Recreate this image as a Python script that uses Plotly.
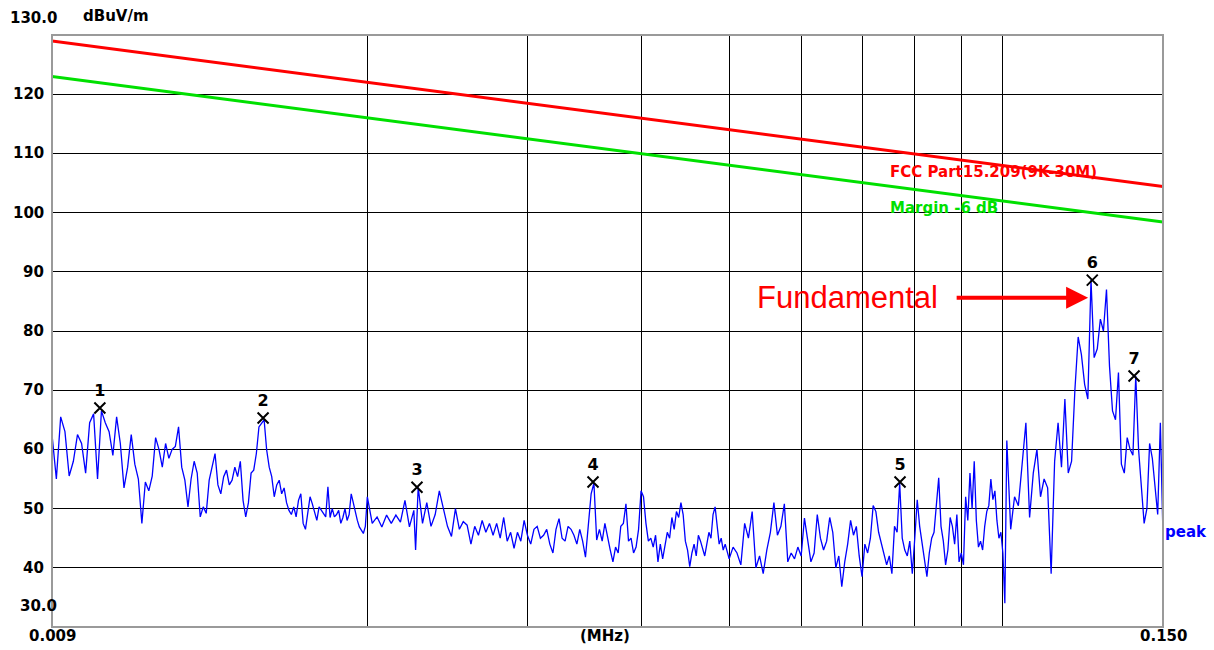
import math
import plotly.graph_objects as go

# ---------------- data (frequency in kHz, level in dBuV/m) ----------------
FREQ_A = [9.0, 9.1, 9.2, 9.3, 9.4, 9.5, 9.6, 9.7, 9.8, 9.9,
          10.0, 10.1, 10.2, 10.3, 10.4, 10.5, 10.6, 10.7, 10.8, 10.9,
          11.0, 11.1, 11.2, 11.3, 11.4, 11.5, 11.6, 11.7, 11.8, 11.9, 12.0]
LEVEL_A = [62.5, 55.0, 65.5, 63.0, 55.5, 58.0, 62.5, 61.0, 56.0, 64.5,
           66.0, 55.0, 66.5, 64.5, 63.0, 59.0, 65.5, 61.0, 53.5, 57.0,
           62.5, 57.5, 55.0, 47.5, 54.5, 53.0, 55.5, 62.0, 60.0, 57.0, 61.0]

FREQ_B = [12.1, 12.2, 12.3, 12.4, 12.5, 12.6, 12.7, 12.8, 12.9, 13.0,
          13.1, 13.2, 13.3, 13.4, 13.5, 13.6, 13.7, 13.8, 13.9, 14.0,
          14.1, 14.2, 14.3, 14.4, 14.5, 14.6, 14.7, 14.8, 14.9, 15.0,
          15.1, 15.2, 15.3, 15.4, 15.5, 15.6, 15.7, 15.8, 15.9, 16.0,
          16.1, 16.2, 16.3, 16.4, 16.5, 16.6, 16.7, 16.8, 16.9, 17.0,
          17.1, 17.2, 17.3, 17.4, 17.5, 17.6, 17.7, 17.8, 17.9, 18.0,
          18.1, 18.2, 18.3, 18.4, 18.5, 18.6, 18.7, 18.8, 18.9, 19.0,
          19.1, 19.2, 19.3, 19.4, 19.5, 19.6, 19.7, 19.8, 19.9, 20.0]
LEVEL_B = [58.5, 60.0, 60.5, 63.8, 57.0, 54.8, 50.3, 55.0, 58.0, 56.0,
           48.6, 50.3, 49.2, 54.8, 57.0, 59.3, 54.0, 52.5, 55.4, 56.5,
           54.0, 54.8, 57.0, 55.4, 58.0, 51.4, 48.6, 51.0, 56.0, 56.5,
           59.3, 63.8, 64.4, 65.0, 59.9, 57.0, 55.4, 52.0, 54.0, 54.8,
           52.5, 53.5, 51.0, 49.7, 49.0, 50.3, 48.6, 51.4, 52.5, 47.5,
           46.5, 49.2, 52.0, 50.8, 49.5, 48.0, 50.3, 49.7, 49.0, 48.6,
           53.7, 48.5, 50.0, 48.6, 49.0, 49.7, 47.5, 48.5, 50.0, 48.0,
           49.0, 52.5, 51.0, 49.2, 48.0, 46.9, 46.3, 45.8, 47.0, 52.0]

FREQ_C = [20.25, 20.5, 20.75, 21.0, 21.25, 21.5, 21.75, 22.0, 22.25, 22.5,
          22.6,
          22.75, 23.0, 23.25, 23.5, 23.75, 24.0, 24.25, 24.5, 24.75, 25.0,
          25.25, 25.5, 25.75, 26.0, 26.25, 26.5, 26.75, 27.0, 27.25, 27.5,
          27.75, 28.0, 28.25, 28.5, 28.75, 29.0, 29.25, 29.5, 29.75, 30.0]
LEVEL_C = [47.5, 48.6, 46.9, 48.9, 47.5, 48.9, 47.7, 51.4, 46.9, 49.7,
           43.0,
           53.6, 47.5, 51.0, 47.0, 49.0, 53.0, 50.0, 47.0, 45.3, 50.0,
           46.5, 47.8, 47.2, 44.0, 47.0, 45.5, 48.0, 46.0, 47.5, 45.5,
           47.5, 45.0, 48.5, 44.5, 46.0, 43.3, 46.0, 44.5, 48.0, 45.5]

FREQ_D = [30.25, 30.5, 30.75, 31.0, 31.25, 31.5, 31.75, 32.0, 32.25, 32.5,
          32.75, 33.0, 33.25, 33.5, 33.75, 34.0, 34.25, 34.5, 34.75, 35.0,
          35.25, 35.5, 35.75, 36.0, 36.25, 36.5, 36.75, 37.0, 37.25, 37.5,
          37.75, 38.0, 38.25, 38.5, 38.75, 39.0, 39.25, 39.5, 39.75, 40.0,
          40.25, 40.5, 40.75, 41.0, 41.25, 41.5, 41.75, 42.0, 42.25, 42.5,
          42.75, 43.0, 43.25, 43.5, 43.75, 44.0, 44.25, 44.5, 44.75, 45.0,
          45.25, 45.5, 45.75, 46.0, 46.25, 46.5, 46.75, 47.0, 47.25, 47.5,
          47.75, 48.0, 48.25, 48.5, 48.75, 49.0, 49.25, 49.5, 49.75, 50.0]
LEVEL_D = [44.0, 46.5, 47.0, 45.0, 45.5, 46.5, 44.0, 42.5, 46.5, 48.3,
           45.0, 44.5, 47.0, 46.5, 45.5, 44.0, 46.5, 44.5, 41.8, 48.0,
           52.5, 54.3, 44.7, 46.5, 44.5, 47.5, 45.0, 43.0, 41.0, 43.5,
           42.5, 47.0, 47.5, 50.8, 44.5, 45.0, 42.5, 43.5, 46.5, 53.0,
           52.0, 47.5, 44.5, 45.0, 43.5, 45.5, 41.0, 44.0, 41.5, 43.5,
           46.0, 45.0, 48.5, 46.5, 49.5, 48.5, 51.0, 49.0, 44.5, 43.0,
           40.2, 42.5, 44.0, 42.0, 45.5, 44.5, 43.0, 42.0, 44.0, 46.0,
           45.0, 49.0, 50.3, 47.5, 44.0, 45.0, 43.0, 44.0, 42.5, 41.5]

FREQ_E = [50.5, 51, 51.5, 52, 52.5, 53, 53.5, 54, 54.5, 55,
          55.5, 56, 56.5, 57, 57.5, 58, 58.5, 59, 59.5, 60,
          60.5, 61, 61.5, 62, 62.5, 63, 63.5, 64, 64.5, 65,
          65.5, 66, 66.5, 67, 67.5, 68, 68.5, 69, 69.5, 70,
          70.5, 71, 71.5, 72, 72.5, 73, 73.5, 74, 74.5, 75,
          75.5, 76, 76.5, 77, 77.5, 78, 78.5, 79, 79.5, 80,
          80.5, 81, 81.5, 82, 82.5, 83, 83.5, 84, 84.5, 85,
          85.5, 86, 86.5, 87, 87.5, 88, 88.5, 89, 89.5, 90,
          90.5, 91, 91.5, 92, 92.5, 93, 93.5, 94, 94.5, 95,
          95.5, 96, 96.5, 97, 97.5, 98, 98.5, 99, 99.5, 100]
LEVEL_E = [43.5, 42.5, 40.5, 47.5, 45.0, 49.5, 40.0, 42.0, 39.0, 43.0,
           46.0, 51.0, 45.5, 47.0, 50.8, 41.0, 42.5, 41.5, 43.5, 42.0,
           48.4, 45.0, 41.0, 42.5, 49.0, 45.0, 43.0, 44.5, 48.5, 46.0,
           40.0, 42.0, 36.8, 41.0, 44.0, 48.0, 45.5, 47.0, 42.0, 38.5,
           44.0, 42.5, 45.0, 50.5, 49.5, 46.0, 44.0, 42.0, 40.5, 42.0,
           39.0, 47.0, 46.0, 54.3, 45.0, 43.0, 42.0, 44.5, 39.0, 45.0,
           51.5, 47.0, 44.0, 41.0, 38.5, 42.5, 45.0, 46.0, 50.0, 55.2,
           47.0, 44.5, 40.5, 43.0, 48.5, 47.0, 44.0, 49.0, 41.0, 42.5,
           40.5, 52.0, 48.0, 56.0, 50.0, 58.0, 48.0, 43.5, 44.5, 43.0,
           47.0, 49.5, 50.5, 55.0, 51.5, 53.0, 48.0, 45.0, 46.0, 42.5]

FREQ_F = [100.5, 101, 102, 103, 104, 105, 106, 107, 108, 109, 110,
          111, 112, 113, 114, 115, 116, 117, 118, 119, 120,
          121, 122, 123, 124, 125, 126, 127, 128, 129, 130,
          131, 132, 133, 134, 135, 136, 137, 138, 139, 140,
          141, 142, 143, 144, 145, 146, 147, 148, 149, 150]
LEVEL_F = [34.0, 61.5, 46.5, 52.0, 50.5, 57.5, 64.5, 48.5, 56.0, 60.0, 52.0,
           55.0, 53.5, 39.0, 58.0, 64.5, 57.0, 68.5, 56.0, 58.0, 70.0,
           79.0, 76.0, 71.0, 68.5, 88.6, 75.5, 77.0, 82.0, 80.0, 87.0,
           74.0, 66.5, 65.0, 73.0, 57.5, 56.0, 62.0, 60.0, 59.0, 72.4,
           60.0, 53.0, 47.5, 50.0, 61.0, 58.5, 53.0, 49.0, 64.5, 45.3]

MARKER_IDS = ["1", "2", "3", "4", "5", "6", "7"]
MARKER_FREQ_KHZ = [10.16, 15.36, 22.68, 35.42, 77.07, 125.4, 139.4]
MARKER_LEVEL = [67.0, 65.3, 53.6, 54.5, 54.5, 88.6, 72.4]

LIMIT_FREQ_MHZ = [0.009, 0.150]
FCC_LIMIT = [129.0, 104.4]
MARGIN_LINE = [123.0, 98.4]

Y_TICKS = [40, 50, 60, 70, 80, 90, 100, 110, 120]
X_GRID_MHZ = [0.02, 0.03, 0.04, 0.05, 0.06, 0.07, 0.08, 0.09, 0.1]

freq_khz = FREQ_A + FREQ_B + FREQ_C + FREQ_D + FREQ_E + FREQ_F
level = LEVEL_A + LEVEL_B + LEVEL_C + LEVEL_D + LEVEL_E + LEVEL_F
assert len(freq_khz) == len(level)
freq_mhz = [f / 1000.0 for f in freq_khz]
marker_mhz = [f / 1000.0 for f in MARKER_FREQ_KHZ]

LBL = dict(family="DejaVu Sans", size=15, color="black", weight="bold")

fig = go.Figure()

fig.add_trace(go.Scatter(x=LIMIT_FREQ_MHZ, y=FCC_LIMIT, mode="lines",
                         line=dict(color="#FF0000", width=3), showlegend=False))
fig.add_trace(go.Scatter(x=LIMIT_FREQ_MHZ, y=MARGIN_LINE, mode="lines",
                         line=dict(color="#00E000", width=3), showlegend=False))
fig.add_trace(go.Scatter(x=freq_mhz, y=level, mode="lines",
                         line=dict(color="#0000FF", width=1.3), showlegend=False))
fig.add_trace(go.Scatter(x=marker_mhz, y=MARKER_LEVEL, mode="markers+text",
                         marker=dict(symbol="x-thin", size=11, color="black",
                                     line=dict(color="black", width=2)),
                         text=MARKER_IDS, textposition="top center",
                         textfont=dict(family="DejaVu Sans", size=16, color="black", weight="bold"),
                         showlegend=False))

ann = []
for v in Y_TICKS:
    ann.append(dict(x=0, xref="paper", y=v, yref="y", text=str(v), showarrow=False,
                    xanchor="right", yanchor="middle", xshift=-6, font=LBL))
ann.append(dict(x=0, xref="paper", y=130, yref="y", text="130.0", showarrow=False,
                xanchor="right", yanchor="middle", xshift=7, yshift=17, font=LBL))
ann.append(dict(x=0, xref="paper", y=30, yref="y", text="30.0", showarrow=False,
                xanchor="right", yanchor="middle", xshift=7, yshift=21, font=LBL))
ann.append(dict(x=0, xref="paper", y=130, yref="y", text="dBuV/m", showarrow=False,
                xanchor="left", yanchor="middle", xshift=29, yshift=19, font=LBL))
for xv, t in [(0.009, "0.009"), (0.03652, "(MHz)"), (0.150, "0.150")]:
    ann.append(dict(x=math.log10(xv), xref="x", y=0, yref="paper", text=t, showarrow=False,
                    xanchor="center", yanchor="middle", yshift=-9, font=LBL))
ann.append(dict(x=math.log10(0.07477), xref="x", y=106.9, yref="y",
                text="FCC Part15.209(9K-30M)", showarrow=False, xanchor="left", yanchor="middle",
                font=dict(family="DejaVu Sans", size=15, color="#FF0000", weight="bold")))
ann.append(dict(x=math.log10(0.07477), xref="x", y=100.8, yref="y",
                text="Margin -6 dB", showarrow=False, xanchor="left", yanchor="middle",
                font=dict(family="DejaVu Sans", size=15, color="#00E000", weight="bold")))
ann.append(dict(x=1, xref="paper", y=46.0, yref="y", text="peak", showarrow=False,
                xanchor="left", yanchor="middle", xshift=0,
                font=dict(family="DejaVu Sans", size=15, color="#0000FF", weight="bold")))
ann.append(dict(x=math.log10(0.0853), xref="x", y=85.6, yref="y", text="Fundamental",
                showarrow=False, xanchor="right", yanchor="middle",
                font=dict(family="Liberation Sans", size=31, color="#FF0000")))
ann.append(dict(x=math.log10(0.1241), xref="x", y=85.6, yref="y", text="",
                showarrow=True, ax=-133, ay=0, arrowcolor="#FF0000", arrowwidth=4,
                arrowhead=2, arrowsize=1.1))

fig.update_layout(
    width=1214, height=650,
    margin=dict(l=52, r=51, t=35, b=23),
    paper_bgcolor="white", plot_bgcolor="white",
    annotations=ann,
    shapes=[dict(type="rect", xref="paper", yref="paper", x0=0, y0=0, x1=1, y1=1,
                 line=dict(color="#9A9A9A", width=2), layer="above")],
    xaxis=dict(type="log", range=[math.log10(0.009), math.log10(0.150)],
               tickvals=X_GRID_MHZ, showticklabels=False, ticks="",
               showgrid=True, gridcolor="black", gridwidth=1,
               zeroline=False, showline=False),
    yaxis=dict(range=[30, 130], tickvals=Y_TICKS, showticklabels=False, ticks="",
               showgrid=True, gridcolor="black", gridwidth=1,
               zeroline=False, showline=False),
)

fig.write_html("out.html")
